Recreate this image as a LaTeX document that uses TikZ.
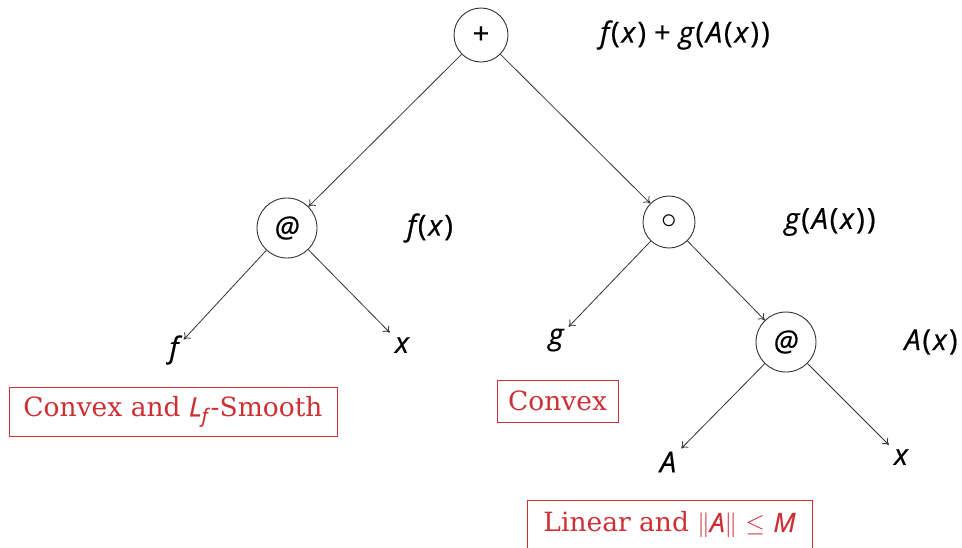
\documentclass[tikz,border=0pt]{standalone}
\usepackage{fontspec}
\newfontfamily\msf{Open Sans}[FakeBold=0.5]
\newfontfamily\rsf{DejaVu Serif}
\usetikzlibrary{arrows.meta}
\definecolor{boxred}{RGB}{204,48,52}
\definecolor{ln}{RGB}{50,50,50}
\newcommand{\mi}[1]{{\msf\itshape #1}}
\newcommand{\lp}{\kern1.8pt(\kern1.8pt}
\newcommand{\rp}{\kern2.2pt)}
\begin{document}
\begin{tikzpicture}[x=1pt,y=-1pt,
 op/.style={circle,draw=ln,line width=0.9pt,minimum size=58pt,inner sep=0pt,font=\fontsize{29}{33}\msf},
 lab/.style={font=\fontsize{29}{33}\msf,inner sep=0pt},
 leaf/.style={font=\fontsize{29}{33}\msf\itshape,inner sep=5pt},
 edge/.style={draw=ln,line width=0.8pt,-{To[length=6pt,width=9pt]}},
 rbox/.style={draw=boxred,text=boxred,line width=0.9pt,font=\fontsize{26.5}{30}\rsf,inner sep=0pt}]
\useasboundingbox (0,0) rectangle (962,547);
% operator nodes
\node[op,minimum size=54pt] (plus) at (481,35) {+};
\node[op,minimum size=60pt] (atL) at (287,228) {\itshape @};
\node[op,minimum size=52pt] (comp) at (669,222) {\scalebox{1.25}{$\circ$}};
\node[op,minimum size=60pt] (atR) at (786,342) {\itshape @};
% labels
\node[lab] (lplus) at (685,35) {\mi{f}\lp\mi{x}\rp\kern8pt+\kern8pt\mi{g}\lp\mi{A}\lp\mi{x}\rp\rp};
\node[lab] (latL) at (430,228) {\mi{f}\lp\mi{x}\rp};
\node[lab] (lcomp) at (830,222) {\mi{g}\lp\mi{A}\lp\mi{x}\rp\rp};
\node[lab] (latR) at (931,342) {\mi{A}\lp\mi{x}\rp};
% leaves
\node[leaf] (f) at (174,350) {f};
\node[leaf] (x1) at (402,345) {x};
\node[leaf] (g) at (556,340) {g};
\node[leaf] (A) at (668,462) {A};
\node[leaf] (x2) at (901,457) {x};
% edges
\draw[edge] (plus) -- (atL);
\draw[edge] (plus) -- (comp);
\draw[edge] (atL) -- (f);
\draw[edge] (atL) -- (x1);
\draw[edge] (comp) -- (g);
\draw[edge] (comp) -- (atR);
\draw[edge] (atR) -- (A);
\draw[edge] (atR) -- (x2);
% red boxes
\node[rbox,minimum width=328pt,minimum height=49pt] (b1) at (173,411.5) {Convex and \mi{L}\raisebox{-6pt}{\fontsize{19}{21}\msf\itshape f}\kern3pt-Smooth};
\node[rbox,minimum width=121pt,minimum height=42pt] (b2) at (557.5,401) {Convex};
\node[rbox,minimum width=285pt,minimum height=50pt] (b3) at (669.5,525) {Linear and $\|$\mi{A}$\|$ $\leq$ \mi{M}};
\end{tikzpicture}
\end{document}
